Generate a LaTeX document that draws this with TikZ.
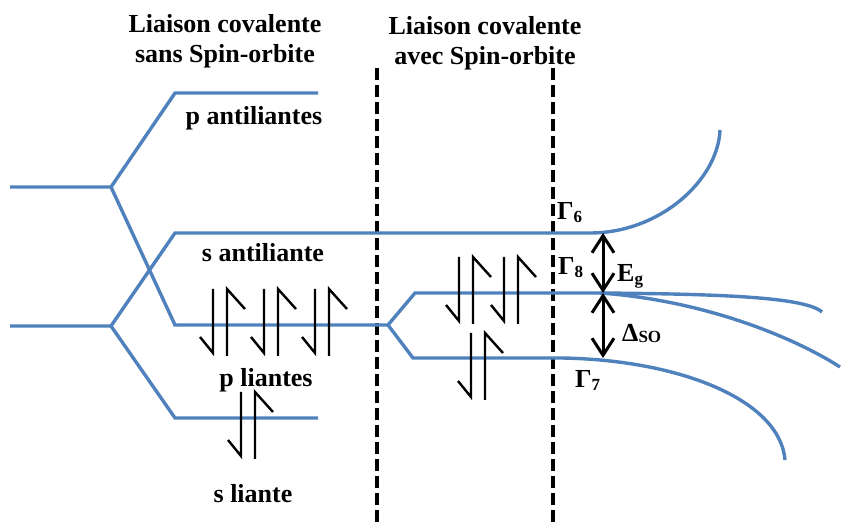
\documentclass[tikz,border=0pt]{standalone}
\usepackage{fontspec}
\setmainfont{Liberation Serif}
\usetikzlibrary{arrows.meta}
\definecolor{bandblue}{RGB}{79,129,189}
\newcommand{\sbs}[1]{\raisebox{-3pt}{\fontsize{17}{17}\selectfont #1}}
\tikzset{
  band/.style={draw=bandblue, line width=3.4pt},
  divider/.style={draw=black, line width=4pt, dash pattern=on 12pt off 5pt},
  gap/.style={draw=black, line width=3pt,
    {Straight Barb[length=17pt,width=22pt]}-{Straight Barb[length=17pt,width=22pt]}},
  lbl/.style={inner sep=0pt, font=\bfseries\fontsize{26}{30}\selectfont},
  sublbl/.style={inner sep=0pt, anchor=base west, font=\bfseries\fontsize{26}{30}\selectfont},
  spinpair/.pic={
    \draw[black, line width=2.4pt] (0,0) -- (0,64) -- (-13,48);
    \draw[black, line width=2.4pt] (14,67) -- (14,0) -- (32,20);
  }
}
\begin{document}
\begin{tikzpicture}[x=1pt,y=-1pt]
\useasboundingbox (0,0) rectangle (844,526);

% column separators
\draw[divider] (377,68) -- (377,526);
\draw[divider] (553,68) -- (553,526);

% level end points
\coordinate (pA) at (10,187);
\coordinate (pB) at (111,187);
\coordinate (pC) at (175,93);
\coordinate (pD) at (318,93);
\coordinate (sA) at (10,326);
\coordinate (sB) at (111,326);
\coordinate (sC) at (175,233);
\coordinate (sD) at (590,233);
\coordinate (plC) at (175,325);
\coordinate (plD) at (388,325);
\coordinate (hh) at (415,293);
\coordinate (hhE) at (600,293);
\coordinate (so) at (413,358);
\coordinate (soE) at (562,358);
\coordinate (slC) at (175,418);
\coordinate (slD) at (318,418);
\coordinate (eTop) at (603,233);
\coordinate (eMid) at (603,293);
\coordinate (eBot) at (603,358);

% bonding / antibonding levels
\draw[band] (pA) -- (pB) -- (pC) -- (pD);
\draw[band] (pB) -- (plC) -- (plD) -- (hh) -- (hhE);
\draw[band] (plD) -- (so) -- (soE);
\draw[band] (sA) -- (sB) -- (sC) -- (sD) .. controls (660,233) and (718,180) .. (720,130);
\draw[band] (sB) -- (slC) -- (slD);

% band dispersion near Gamma
\draw[band] (hhE) .. controls (720,294) and (805,297) .. (822,312);
\draw[band] (hhE) .. controls (700,300) and (790,335) .. (840,367);
\draw[band] (soE) .. controls (680,360) and (780,400) .. (785,460);

% energy gaps
\draw[gap] (eTop) -- (eMid);
\draw[gap] (eMid) -- (eBot);

% electron pairs
\pic at (213,289) {spinpair};
\pic at (264,289) {spinpair};
\pic at (315,289) {spinpair};
\pic at (459,257) {spinpair};
\pic at (504,257) {spinpair};
\pic at (471,333) {spinpair};
\pic at (241,392) {spinpair};

% headings
\node[lbl, anchor=base] (h1a) at (225,33) {Liaison covalente};
\node[lbl, anchor=base] (h1b) at (225,63) {sans Spin-orbite};
\node[lbl, anchor=base] (h2a) at (485,35) {Liaison covalente};
\node[lbl, anchor=base] (h2b) at (485,65) {avec Spin-orbite};

% level names
\node[lbl, anchor=base] (tpa) at (254,125) {p antiliantes};
\node[lbl, anchor=base] (tsa) at (263,262) {s antiliante};
\node[lbl, anchor=base] (tpl) at (266,387) {p liantes};
\node[lbl, anchor=base] (tsl) at (253,503) {s liante};

% symmetry labels
\node[sublbl] (g6) at (557,220) {Γ\sbs{6}};
\node[sublbl] (g8) at (558,275) {Γ\sbs{8}};
\node[sublbl] (g7) at (575,388) {Γ\sbs{7}};
\node[sublbl] (eg) at (617,282) {E\sbs{g}};
\node[sublbl] (dso) at (622,342) {Δ\raisebox{-1pt}{\fontsize{17}{17}\selectfont SO}};
\end{tikzpicture}
\end{document}
